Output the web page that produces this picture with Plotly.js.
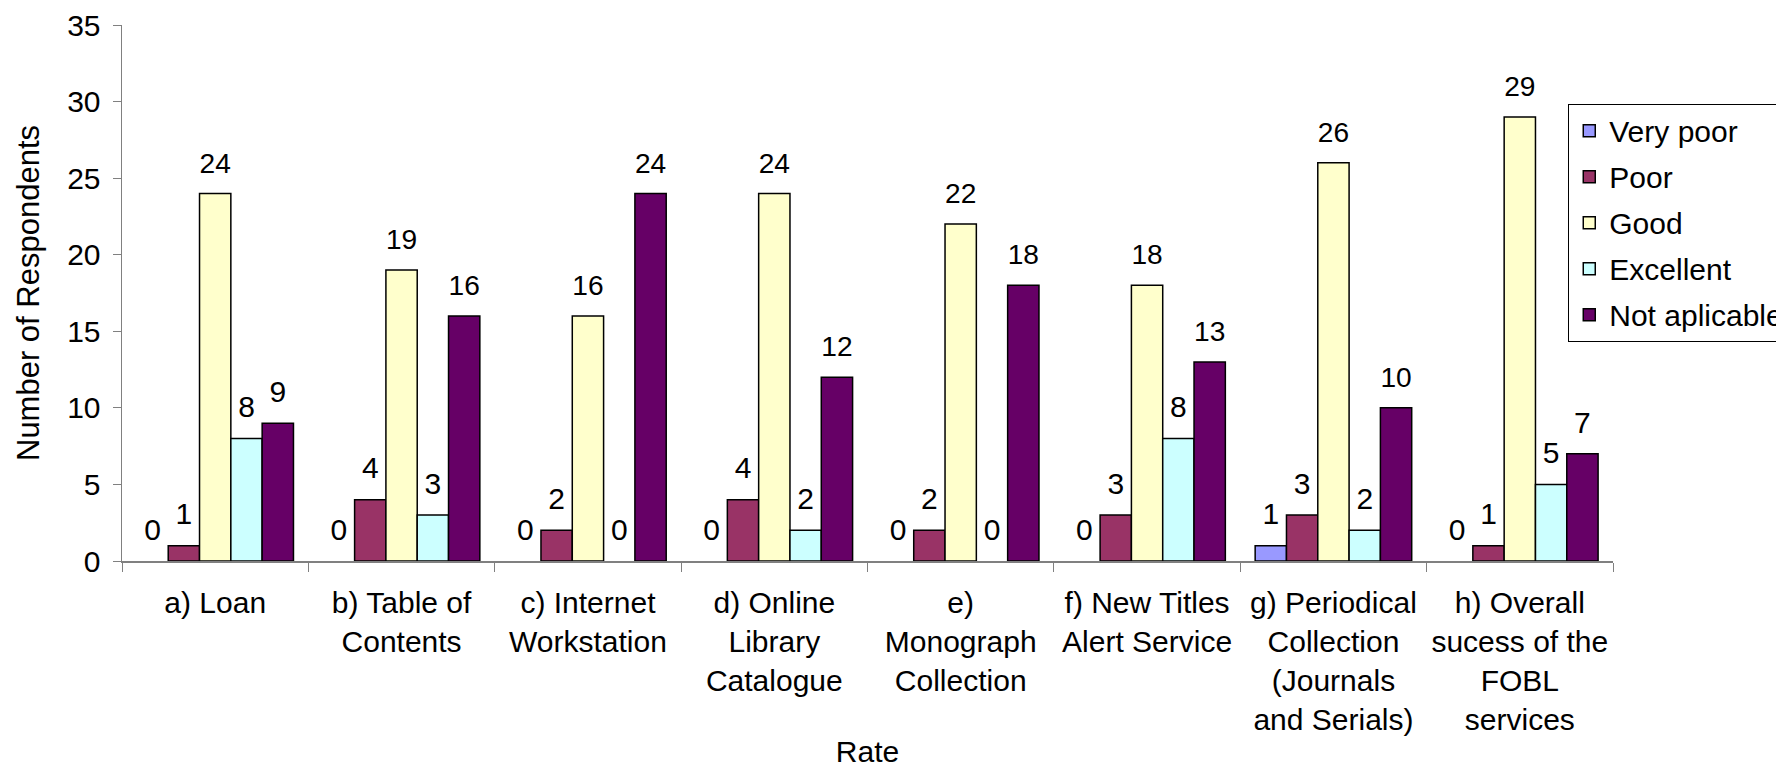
<!DOCTYPE html>
<html>
<head>
<meta charset="utf-8">
<script src="https://cdn.plot.ly/plotly-3.0.1.min.js"></script>
<style>html,body{margin:0;padding:0;background:#fff;}#chart{width:1776px;height:768px;}</style>
</head>
<body>
<div id="chart"></div>
<script>
const categories = [
  "a) Loan",
  "b) Table of<br>Contents",
  "c) Internet<br>Workstation",
  "d) Online<br>Library<br>Catalogue",
  "e)<br>Monograph<br>Collection",
  "f) New Titles<br>Alert Service",
  "g) Periodical<br>Collection<br>(Journals<br>and Serials)",
  "h) Overall<br>sucess of the<br>FOBL<br>services"
];
const seriesNames = ["Very poor", "Poor", "Good", "Excellent", "Not aplicable"];
const veryPoor     = [0, 0, 0, 0, 0, 0, 1, 0];
const poor         = [1, 4, 2, 4, 2, 3, 3, 1];
const good         = [24, 19, 16, 24, 22, 18, 26, 29];
const excellent    = [8, 3, 0, 2, 0, 8, 2, 5];
const notAplicable = [9, 16, 24, 12, 18, 13, 10, 7];
const seriesValues = [veryPoor, poor, good, excellent, notAplicable];
const seriesColors = ["#9999FF", "#993366", "#FFFFCC", "#CCFFFF", "#660066"];

const FONT = "Liberation Sans, Arial, sans-serif";
const FS = 30;
const LABEL_GAP = 0.8; // gap between bar top and its value label, in axis units

// zero-height bars are not drawn (no outline on the axis), but keep their "0" labels
const barTraces = seriesNames.map((name, i) => ({
  type: "bar",
  name: name,
  legendgroup: name,
  offsetgroup: name,
  x: categories,
  y: seriesValues[i].map(v => v === 0 ? null : v),
  marker: {color: seriesColors[i], line: {color: "#000", width: 1.5}},
  hoverinfo: "skip"
}));

// transparent spacer bars sitting on top of each bar, carrying the value labels
const labelTraces = seriesNames.map((name, i) => ({
  type: "bar",
  name: name + " label",
  legendgroup: name,
  offsetgroup: name,
  showlegend: false,
  x: categories,
  base: seriesValues[i],
  y: seriesValues[i].map(() => LABEL_GAP),
  text: seriesValues[i].map(String),
  textposition: "outside",
  cliponaxis: false,
  textfont: {family: FONT, size: FS, color: "#000"},
  marker: {color: "rgba(0,0,0,0)", line: {width: 0}},
  hoverinfo: "skip"
}));

const layout = {
  width: 1776,
  height: 768,
  paper_bgcolor: "#fff",
  plot_bgcolor: "#fff",
  font: {family: FONT, size: FS, color: "#000"},
  barmode: "group",
  bargap: 0.16,
  bargroupgap: 0,
  margin: {l: 122, r: 163, t: 25, b: 207, autoexpand: false},
  showlegend: true,
  legend: {
    x: 0.97, xanchor: "left",
    y: 0.853, yanchor: "top",
    bgcolor: "#fff",
    bordercolor: "#000",
    borderwidth: 1,
    font: {family: FONT, size: FS, color: "#000"},
    tracegroupgap: 4,
    traceorder: "grouped"
  },
  xaxis: {
    type: "category",
    tickangle: 0,
    showline: true,
    linecolor: "#808080",
    linewidth: 1.5,
    ticks: "outside",
    tickson: "boundaries",
    ticklen: 9,
    tickcolor: "#808080",
    tickwidth: 1,
    ticklabelstandoff: 14,
    showgrid: false,
    zeroline: false,
    automargin: false,
    tickfont: {family: FONT, size: FS, color: "#000"},
    title: {text: "Rate", standoff: 11, font: {family: FONT, size: FS, color: "#000"}}
  },
  yaxis: {
    range: [0, 35],
    dtick: 5,
    tick0: 0,
    showline: true,
    linecolor: "#808080",
    linewidth: 1.5,
    ticks: "outside",
    ticklen: 8,
    tickcolor: "#808080",
    tickwidth: 1,
    ticklabelstandoff: 6,
    showgrid: false,
    zeroline: false,
    automargin: false,
    tickfont: {family: FONT, size: FS, color: "#000"},
    title: {text: "Number of Respondents", standoff: 18, font: {family: FONT, size: 31, color: "#000"}}
  }
};

Plotly.newPlot("chart", barTraces.concat(labelTraces), layout, {displayModeBar: false, staticPlot: true});
</script>
</body>
</html>
